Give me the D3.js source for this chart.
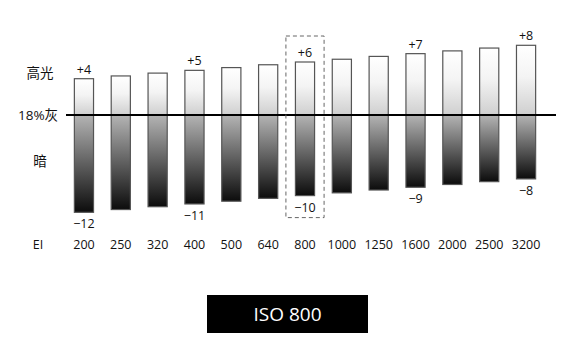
<!DOCTYPE html>
<html>
<head>
<meta charset="utf-8">
<script src="https://cdn.jsdelivr.net/npm/d3@7"></script>
<style>
  body { margin: 0; background: #fff; }
  text { font-family: "Open Sans", "Noto Sans CJK SC", sans-serif; fill: #111; }
</style>
</head>
<body>
<div id="chart"></div>
<script>
// EI settings and the stops above / below middle grey
var eiValues = ['200', '250', '320', '400', '500', '640', '800', '1000', '1250', '1600', '2000', '2500', '3200'];
var highStops = [4, 4.33, 4.67, 5, 5.33, 5.67, 6, 6.33, 6.67, 7, 7.33, 7.67, 8];
var lowStops = [-12, -11.67, -11.33, -11, -10.67, -10.33, -10, -9.67, -9.33, -9, -8.67, -8.33, -8];
var labelledEI = ['200', '400', '800', '1600', '3200'];
var selectedEI = '800';
var rowLabels = ['高光', '18%灰', '暗'];

var W = 567, H = 357;
var svg = d3.select('#chart').append('svg')
  .attr('width', W)
  .attr('height', H);

var x = d3.scaleBand().domain(eiValues).range([67, 543]).paddingInner(0.48).paddingOuter(0.2);
var y = d3.scaleLinear().domain([-12, 8]).range([212.3, 45.3]);
var lineY = 115;

var data = eiValues.map(function (ei, i) {
  return { ei: ei, hi: highStops[i], lo: lowStops[i] };
});

// one gradient per bar so the grey step sits on the 18% line
var defs = svg.append('defs');
data.forEach(function (d, i) {
  var top = y(d.hi), bot = y(d.lo);
  var f = (lineY - top) / (bot - top);
  var g = defs.append('linearGradient')
    .attr('id', 'g' + i)
    .attr('x1', 0).attr('y1', 0).attr('x2', 0).attr('y2', 1);
  g.append('stop').attr('offset', 0).attr('stop-color', '#ffffff');
  g.append('stop').attr('offset', f * 0.45).attr('stop-color', '#f4f4f4');
  g.append('stop').attr('offset', f).attr('stop-color', '#cfcfcf');
  g.append('stop').attr('offset', f).attr('stop-color', '#b4b4b4');
  g.append('stop').attr('offset', 1).attr('stop-color', '#0c0c0c');
});

svg.selectAll('rect.bar')
  .data(data)
  .enter().append('rect')
  .attr('class', 'bar')
  .attr('x', function (d) { return x(d.ei); })
  .attr('y', function (d) { return y(d.hi); })
  .attr('width', x.bandwidth())
  .attr('height', function (d) { return y(d.lo) - y(d.hi); })
  .attr('fill', function (d, i) { return 'url(#g' + i + ')'; })
  .attr('stroke', '#555')
  .attr('stroke-width', 1.2);

// 18% grey line
svg.append('line')
  .attr('x1', 66).attr('x2', 556)
  .attr('y1', lineY).attr('y2', lineY)
  .attr('stroke', '#000')
  .attr('stroke-width', 2);

var fmt = function (v) { return v > 0 ? '+' + v : '\u2212' + Math.abs(v); };
var marked = data.filter(function (d) { return labelledEI.indexOf(d.ei) >= 0; });

svg.selectAll('text.hi')
  .data(marked)
  .enter().append('text')
  .attr('class', 'hi')
  .attr('x', function (d) { return x(d.ei) + x.bandwidth() / 2; })
  .attr('y', function (d) { return y(d.hi) - 5; })
  .attr('text-anchor', 'middle')
  .style('font-size', '12.5px')
  .text(function (d) { return fmt(d.hi); });

svg.selectAll('text.lo')
  .data(marked)
  .enter().append('text')
  .attr('class', 'lo')
  .attr('x', function (d) { return x(d.ei) + x.bandwidth() / 2; })
  .attr('y', function (d) { return y(d.lo) + 16; })
  .attr('text-anchor', 'middle')
  .style('font-size', '12.5px')
  .text(function (d) { return fmt(d.lo); });

// dashed frame around the selected EI
var sel = data.filter(function (d) { return d.ei === selectedEI; })[0];
svg.append('rect')
  .attr('x', x(sel.ei) - 9.5)
  .attr('y', y(sel.hi) - 26)
  .attr('width', x.bandwidth() + 19)
  .attr('height', y(sel.lo) - y(sel.hi) + 48)
  .attr('fill', 'none')
  .attr('stroke', '#666')
  .attr('stroke-dasharray', '4,3')
  .attr('stroke-width', 1);

// EI axis labels
var axis = svg.append('g')
  .attr('transform', 'translate(0,240)')
  .call(d3.axisBottom(x).tickSize(0).tickPadding(0));
axis.select('.domain').remove();
axis.selectAll('text')
  .style('font-size', '12.5px')
  .style('fill', '#111')
  .attr('font-family', null);

svg.append('text')
  .attr('x', 38).attr('y', 249)
  .attr('text-anchor', 'middle')
  .style('font-size', '12.5px')
  .text('EI');

// row labels on the left
var rowY = [78, 120, 166];
var rowX = [40, 38, 40];
svg.selectAll('text.row')
  .data(rowLabels)
  .enter().append('text')
  .attr('class', 'row')
  .attr('x', function (d, i) { return rowX[i]; })
  .attr('y', function (d, i) { return rowY[i]; })
  .attr('text-anchor', 'middle')
  .style('font-size', '13.5px')
  .text(function (d) { return d; });

// ISO badge
svg.append('rect')
  .attr('x', 207).attr('y', 295)
  .attr('width', 161).attr('height', 38)
  .attr('fill', '#000');
svg.append('text')
  .attr('x', 287.5).attr('y', 321)
  .attr('text-anchor', 'middle')
  .style('font-size', '19px')
  .style('fill', '#fff')
  .text('ISO ' + selectedEI);
</script>
</body>
</html>
